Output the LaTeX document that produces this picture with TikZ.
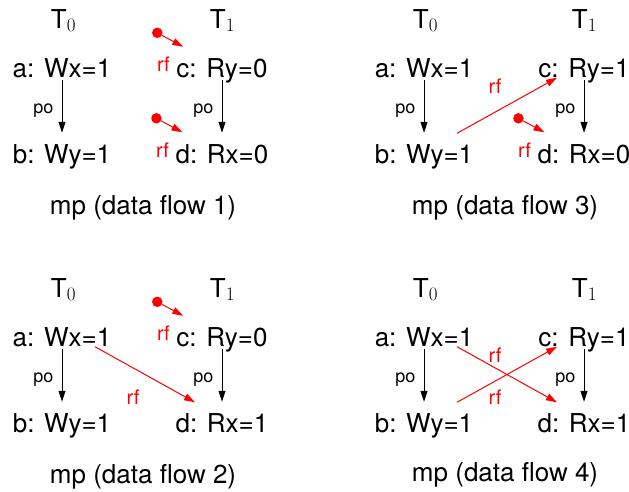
\documentclass[tikz,border=0pt]{standalone}
\usepackage[no-math]{fontspec}
\setmainfont{TeX Gyre Heros}
\newfontfamily\lmfont{Latin Modern Roman}
\newcommand{\thr}[1]{T$_{\hbox{\lmfont\fontsize{19}{19}\selectfont #1}}$}
\usetikzlibrary{arrows.meta, positioning}

\begin{document}
\begin{tikzpicture}[
      x=1pt, y=-1pt,
      event/.style={inner sep=0pt, anchor=base, text height=19pt, text depth=0pt, font=\fontsize{26}{31}\selectfont},
      thread/.style={inner sep=0pt, anchor=base, font=\fontsize{26}{31}\selectfont},
      caption/.style={inner sep=0pt, anchor=base, font=\fontsize{26}{31}\selectfont},
      lbl/.style={inner sep=0pt, font=\fontsize{18}{22}\selectfont},
      rflbl/.style={inner sep=0pt, red, font=\fontsize{20}{24}\selectfont},
      po/.style={-{Triangle[length=11pt, width=7pt]}, line width=1pt, shorten <=2.5pt, shorten >=11pt},
      rf/.style={-{Triangle[length=11pt, width=7pt]}, line width=1pt, red},
      init/.style={circle, fill=red, inner sep=0pt, minimum size=10.5pt}
    ]
    \useasboundingbox (0,0) rectangle (629,491);

    % data flow 1
    \node[thread] (ta1) at (63.5,28) {\thr{0}};
    \node[thread] (tb1) at (222.5,28) {\thr{1}};
    \node[event] (a1) at (62,77.5) {a: Wx=1};
    \node[event] (c1) at (222,77.5) {c: Ry=0};
    \node[event] (b1) at (62,163) {b: Wy=1};
    \node[event] (d1) at (222,163) {d: Rx=0};
    \node[caption] (cap1) at (143,214) {mp (data flow 1)};
    \node[init] (ic1) at ([shift={(-19pt,25.5pt)}]c1.north west) {};
    \coordinate (jc1) at ([shift={(7pt,11.5pt)}]c1.north west);
    \node[init] (id1) at ([shift={(-19pt,25.5pt)}]d1.north west) {};
    \coordinate (jd1) at ([shift={(7pt,11.5pt)}]d1.north west);

    \draw[po] (a1) -- node[lbl, left=8pt] {po} (b1);
    \draw[po] (c1) -- node[lbl, left=8pt] {po} (d1);
    \draw[rf] (ic1) -- (jc1) node[rflbl, at end, below left=10pt and 13pt] {rf};
    \draw[rf] (id1) -- (jd1) node[rflbl, at end, below left=10pt and 13pt] {rf};

    % data flow 2
    \node[thread] (ta2) at (63.5,297) {\thr{0}};
    \node[thread] (tb2) at (222.5,297) {\thr{1}};
    \node[event] (a2) at (62,346.5) {a: Wx=1};
    \node[event] (c2) at (222,346.5) {c: Ry=0};
    \node[event] (b2) at (62,432) {b: Wy=1};
    \node[event] (d2) at (222,432) {d: Rx=1};
    \node[caption] (cap2) at (143,483) {mp (data flow 2)};
    \node[init] (ic2) at ([shift={(-19pt,25.5pt)}]c2.north west) {};
    \coordinate (jc2) at ([shift={(7pt,11.5pt)}]c2.north west);

    \draw[po] (a2) -- node[lbl, left=8pt] {po} (b2);
    \draw[po] (c2) -- node[lbl, left=8pt] {po} (d2);
    \draw[rf] (ic2) -- (jc2) node[rflbl, at end, below left=10pt and 13pt] {rf};
    \draw[rf] ([xshift=33pt]a2.south) -- ([shift={(-27pt,10.5pt)}]d2.north)
      node[rflbl, pos=0.38, below=22pt] {rf};

    % data flow 3
    \node[thread] (ta3) at (425.5,28) {\thr{0}};
    \node[thread] (tb3) at (584.5,28) {\thr{1}};
    \node[event] (a3) at (424,77.5) {a: Wx=1};
    \node[event] (c3) at (584,77.5) {c: Ry=1};
    \node[event] (b3) at (424,163) {b: Wy=1};
    \node[event] (d3) at (584,163) {d: Rx=0};
    \node[caption] (cap3) at (505,214) {mp (data flow 3)};
    \node[init] (id3) at ([shift={(-19pt,25.5pt)}]d3.north west) {};
    \coordinate (jd3) at ([shift={(7pt,11.5pt)}]d3.north west);

    \draw[po] (a3) -- node[lbl, left=8pt] {po} (b3);
    \draw[po] (c3) -- node[lbl, left=8pt] {po} (d3);
    \draw[rf] ([shift={(33pt,10.5pt)}]b3.north) -- ([xshift=-27pt]c3.south)
      node[rflbl, pos=0.38, above=18pt] {rf};
    \draw[rf] (id3) -- (jd3) node[rflbl, at end, below left=10pt and 13pt] {rf};

    % data flow 4
    \node[thread] (ta4) at (425.5,297) {\thr{0}};
    \node[thread] (tb4) at (584.5,297) {\thr{1}};
    \node[event] (a4) at (424,346.5) {a: Wx=1};
    \node[event] (c4) at (584,346.5) {c: Ry=1};
    \node[event] (b4) at (424,432) {b: Wy=1};
    \node[event] (d4) at (584,432) {d: Rx=1};
    \node[caption] (cap4) at (505,481) {mp (data flow 4)};

    \draw[po] (a4) -- node[lbl, left=8pt] {po} (b4);
    \draw[po] (c4) -- node[lbl, left=8pt] {po} (d4);
    \draw[rf] ([xshift=33pt]a4.south) -- ([shift={(-27pt,10.5pt)}]d4.north)
      node[rflbl, pos=0.38, below=22pt] {rf};
    \draw[rf] ([shift={(33pt,10.5pt)}]b4.north) -- ([xshift=-27pt]c4.south)
      node[rflbl, pos=0.38, above=18pt] {rf};
  \end{tikzpicture}
\end{document}
